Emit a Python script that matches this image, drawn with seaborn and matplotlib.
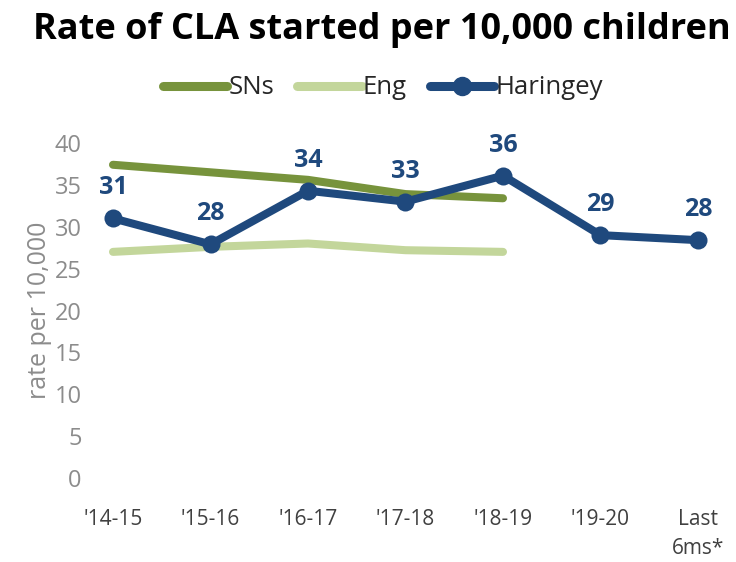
import pandas as pd
import matplotlib.pyplot as plt
import seaborn as sns
from matplotlib.lines import Line2D

years = ["'14-15", "'15-16", "'16-17", "'17-18", "'18-19", "'19-20", "Last\n6ms*"]
haringey = [31.0, 27.9, 34.3, 33.0, 36.1, 29.0, 28.4]
haringey_labels = ["31", "28", "34", "33", "36", "29", "28"]
sns_vals = [37.4, 36.5, 35.6, 33.9, 33.4]
eng_vals = [27.0, 27.6, 28.0, 27.2, 27.0]

dark_green = "#77933C"
light_green = "#C3D69B"
navy = "#1F497D"

sns.set_style("white")
plt.rcParams["font.family"] = ["Open Sans", "DejaVu Sans"]

df = pd.concat([
    pd.DataFrame({"x": range(len(sns_vals)), "rate": sns_vals, "series": "SNs"}),
    pd.DataFrame({"x": range(len(eng_vals)), "rate": eng_vals, "series": "Eng"}),
    pd.DataFrame({"x": range(len(haringey)), "rate": haringey, "series": "Haringey"}),
])

fig = plt.figure(figsize=(7.36, 5.62), dpi=100)
ax = fig.add_axes([90 / 736, 84 / 562, 646 / 736, 335 / 562])

sns.lineplot(data=df[df.series == "SNs"], x="x", y="rate", color=dark_green,
             lw=5.8, ax=ax, solid_capstyle="round")
sns.lineplot(data=df[df.series == "Eng"], x="x", y="rate", color=light_green,
             lw=5.8, ax=ax, solid_capstyle="round")
sns.lineplot(data=df[df.series == "Haringey"], x="x", y="rate", color=navy,
             lw=5.8, marker="o", markersize=13, markeredgewidth=0, ax=ax,
             clip_on=False)

# data labels
for i, (v, lab) in enumerate(zip(haringey, haringey_labels)):
    ax.annotate(lab, (i, v), xytext=(0, 13), textcoords="offset points",
                ha="center", va="bottom", fontsize=18, fontweight="bold",
                color=navy, annotation_clip=False)

ax.set_xlim(-0.236, 6.39)
ax.set_ylim(0, 40)
ax.set_yticks(range(0, 41, 5))
ax.set_xticks(range(len(years)))
ax.set_xticklabels(years, fontsize=15, color="#404040", linespacing=1.5)
ax.tick_params(axis="y", labelsize=17, labelcolor="#8C8C8C", pad=6, length=0)
ax.tick_params(axis="x", pad=22, length=0)
ax.set_xlabel("")
ax.set_ylabel("rate per 10,000", fontsize=18, color="#8C8C8C", labelpad=2)
sns.despine(ax=ax, left=True, bottom=True)

handles = [
    Line2D([], [], color=dark_green, lw=6.5, solid_capstyle="round"),
    Line2D([], [], color=light_green, lw=6.5, solid_capstyle="round"),
    Line2D([], [], color=navy, lw=6.5, marker="o", markersize=13),
]
fig.legend(handles, ["SNs", "Eng", "Haringey"], loc="center",
           bbox_to_anchor=(383 / 736, 1 - 88 / 562), ncol=3, frameon=False,
           fontsize=18.5, handlelength=2.5, handletextpad=0.05, columnspacing=0.9,
           labelcolor="#262626")

fig.suptitle("Rate of CLA started per 10,000 children", x=382 / 736,
             y=1 - 30 / 562, va="center", fontsize=26, fontweight="bold",
             color="black")

fig.savefig("out.png", dpi=100)
